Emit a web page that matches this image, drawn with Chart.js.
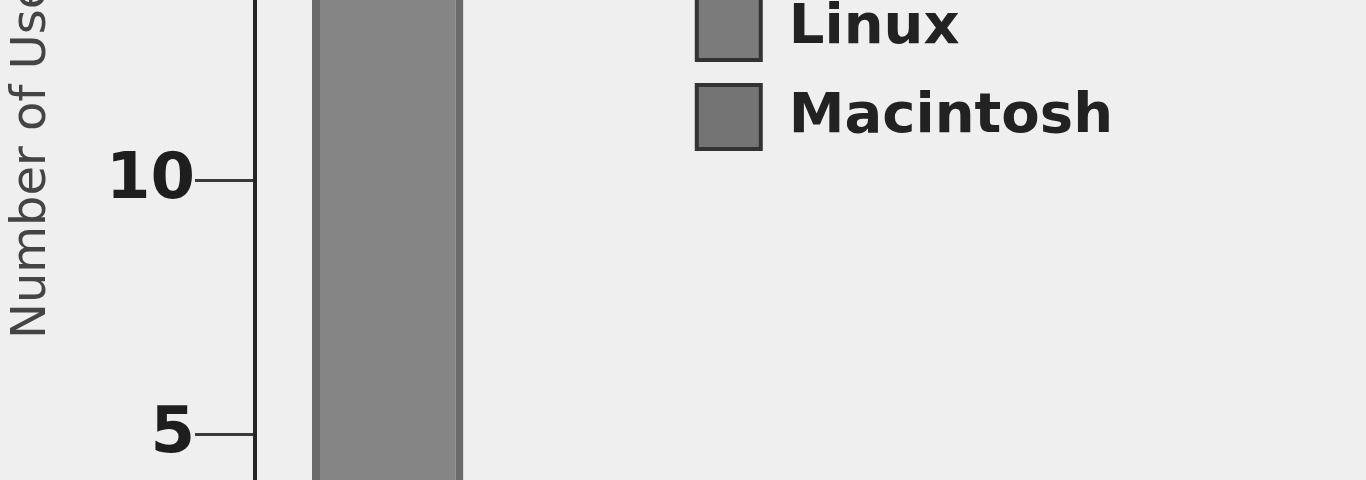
<!DOCTYPE html>
<html>
<head>
<meta charset="utf-8">
<script src="https://cdn.jsdelivr.net/npm/chart.js@4"></script>
<style>
  html, body { margin: 0; padding: 0; background: #efefef; overflow: hidden; }
  #wrap { position: relative; width: 1366px; height: 480px; overflow: hidden; }
  #c { position: absolute; left: 0; top: -250px; display: block; }
</style>
</head>
<body>
<div id="wrap"><canvas id="c" width="1366" height="770"></canvas></div>
<script>
// ---- data ----
const categories = ["Users"];
const seriesNames = ["Linux", "Macintosh"];
const linuxValues = [16];
const macValues = [3];
const yTickValues = [5, 10, 15];
const yTitle = "Number of Users";

const FONT = "'DejaVu Sans', Verdana, sans-serif";

const chart = new Chart(document.getElementById('c'), {
  type: 'bar',
  data: {
    labels: categories,
    datasets: [
      { label: seriesNames[0], data: linuxValues, backgroundColor: '#858585', borderColor: '#6b6b6b', borderWidth: 8, borderSkipped: 'start' },
      { label: seriesNames[1], data: macValues, backgroundColor: '#777777', borderColor: '#3a3a3a', borderWidth: 4, borderSkipped: 'start' }
    ]
  },
  options: {
    responsive: false,
    animation: false,
    devicePixelRatio: 1,
    datasets: { bar: { barPercentage: 1.0, categoryPercentage: 0.7266 } },
    layout: { padding: { top: 44, right: 243, bottom: 40, left: 0 } },
    scales: {
      x: { display: false },
      y: {
        min: 4.114,
        max: 17.618,
        afterFit: (s) => { s.width = 255; },
        ticks: {
          stepSize: 5,
          includeBounds: false,
          padding: 0,
          color: '#1e1e1e',
          font: { family: FONT, size: 64, weight: 'bold' },
          callback: (v) => (yTickValues.includes(v) ? String(v) : '')
        },
        grid: { drawOnChartArea: false, drawTicks: true, tickLength: 60, color: '#3a3a3a', lineWidth: 3 },
        border: { display: true, color: '#262626', width: 4 },
        title: {
          display: true,
          text: yTitle,
          color: '#444444',
          font: { family: FONT, size: 48, weight: 'normal' },
          padding: { top: 4, bottom: 0 }
        }
      }
    },
    plugins: {
      tooltip: { enabled: false },
      legend: {
        display: true,
        position: 'right',
        align: 'start',
        maxWidth: 700,
        title: { display: true, text: '', font: { size: 10 }, padding: { top: 165, bottom: 0 } },
        labels: {
          boxWidth: 64,
          boxHeight: 64,
          padding: 25,
          color: '#222222',
          font: { family: FONT, size: 56, weight: 'bold' },
          generateLabels: (ch) => {
            const items = Chart.defaults.plugins.legend.labels.generateLabels(ch);
            const fills = ['#7b7b7b', '#747474'];
            items.forEach((it, i) => {
              it.fillStyle = fills[i];
              it.strokeStyle = '#333333';
              it.lineWidth = 4;
            });
            return items;
          }
        }
      }
    }
  }
});
</script>
</body>
</html>
